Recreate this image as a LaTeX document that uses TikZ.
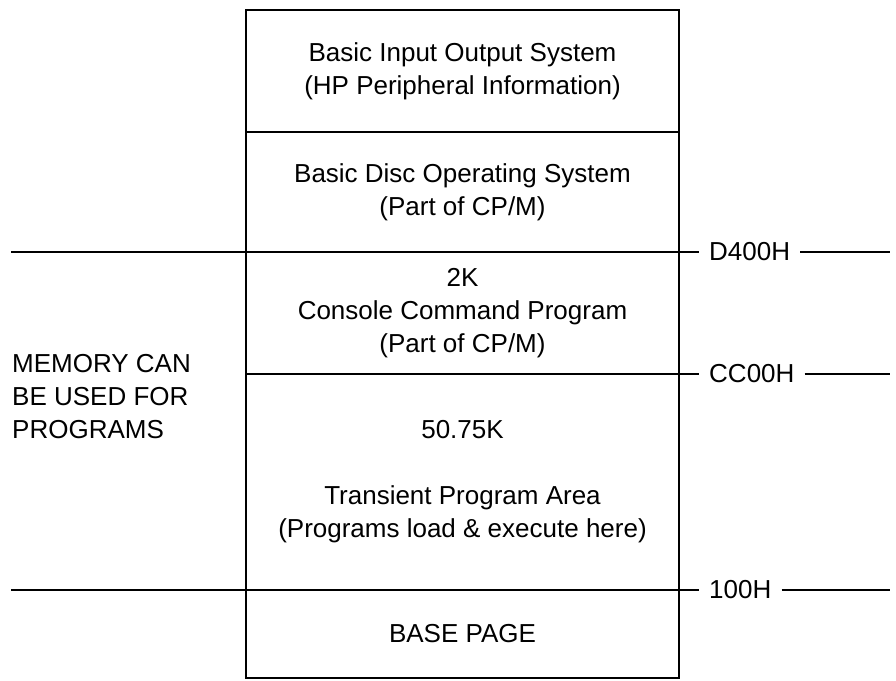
\documentclass[tikz,border=0pt]{standalone}
\usepackage{fontspec}
\setmainfont{Liberation Sans}
\usetikzlibrary{positioning}

\begin{document}
\begin{tikzpicture}[node distance=0pt, x=1pt, y=1pt, font=\fontsize{26}{33}\selectfont]
  \tikzstyle{seg} = [draw, line width=1.6pt, rectangle, minimum width=433pt, align=center, inner sep=0pt, outer sep=0pt]
  \tikzstyle{addr} = [inner xsep=10pt, inner ysep=0pt, anchor=west]
  \tikzstyle{rule} = [line width=1.4pt]
  \useasboundingbox (0,0) rectangle (896,-680);
  \coordinate (leftend) at (11,0);
  \coordinate (rightend) at (890,0);
  % memory segments, top to bottom
  \node[seg, minimum height=122pt] (bios) at (462.5,-71) {Basic Input Output System\\(HP Peripheral Information)};
  \node[seg, minimum height=120pt, below=of bios] (bdos) {Basic Disc Operating System\\(Part of CP/M)};
  \node[seg, minimum height=122pt, below=of bdos] (ccp) {2K\\Console Command Program\\(Part of CP/M)};
  \node[seg, minimum height=216pt, below=of ccp] (tpa) {50.75K\\[33pt]Transient Program Area\\(Programs load \& execute here)};
  \node[seg, minimum height=88pt, below=of tpa] (base) {BASE PAGE};
  \draw[line width=2.6pt] (bios.north west) rectangle (base.south east);
  % addresses
  \node[addr] (d400) at ([xshift=20pt]ccp.north east) {D400H};
  \node[addr] (cc00) at ([xshift=20pt]tpa.north east) {CC00H};
  \node[addr] (a100) at ([xshift=20pt]base.north east) {100H};
  \draw[rule] (ccp.north east) -- (d400.west);
  \draw[rule] (d400.east) -- (d400.east -| rightend);
  \draw[rule] (tpa.north east) -- (cc00.west);
  \draw[rule] (cc00.east) -- (cc00.east -| rightend);
  \draw[rule] (base.north east) -- (a100.west);
  \draw[rule] (a100.east) -- (a100.east -| rightend);
  \draw[rule] (leftend |- ccp.north west) -- (ccp.north west);
  \draw[rule] (leftend |- base.north west) -- (base.north west);
  \node[align=left, anchor=west, inner sep=0pt] (mem) at (12,-397) {MEMORY CAN\\BE USED FOR\\PROGRAMS};
\end{tikzpicture}
\end{document}
